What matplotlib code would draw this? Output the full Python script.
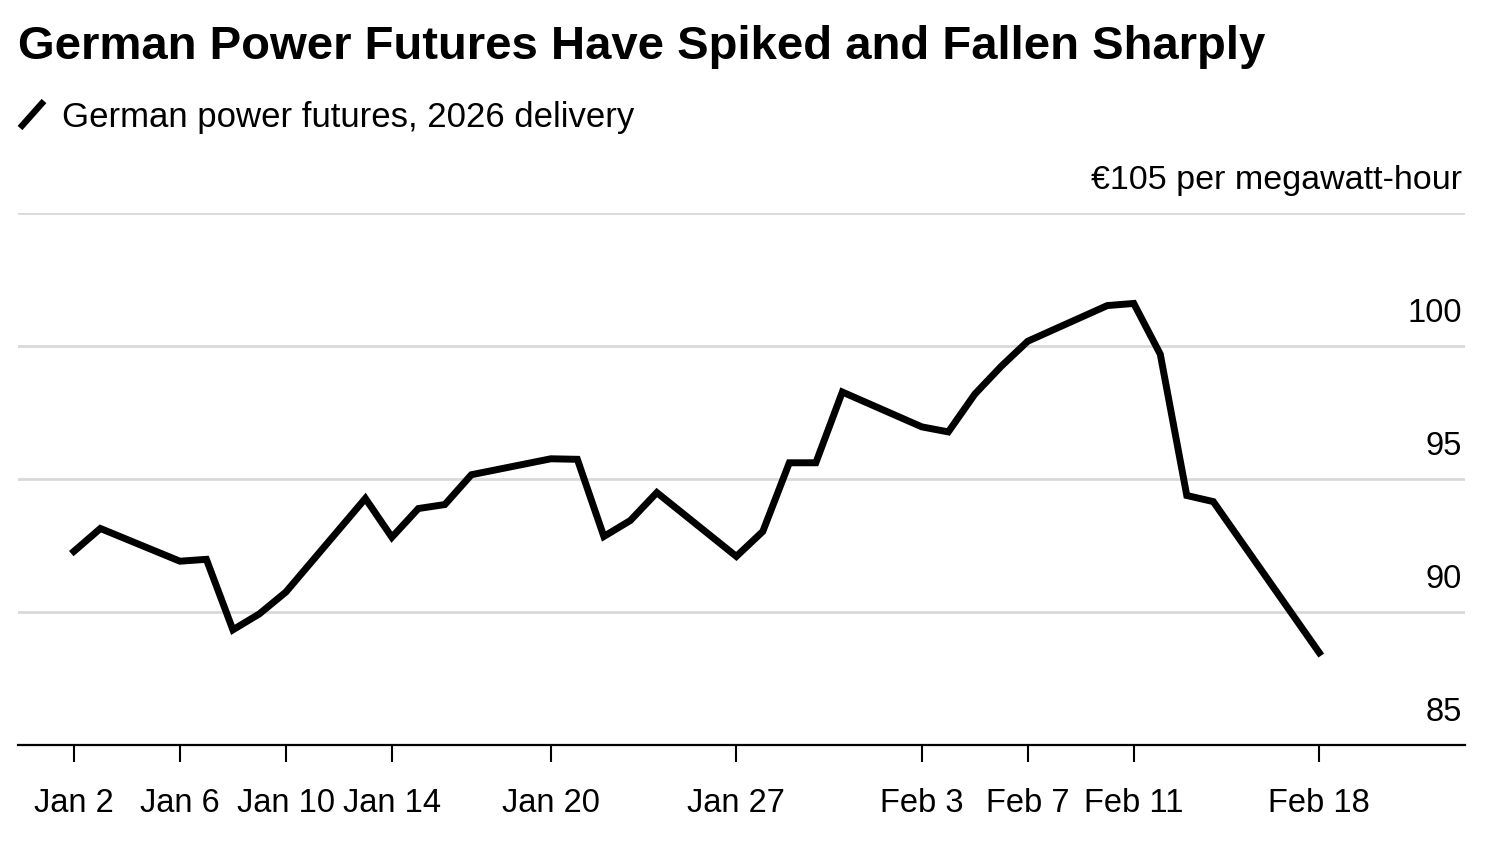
import matplotlib
matplotlib.use("Agg")
import matplotlib.pyplot as plt
import matplotlib.dates as mdates
from matplotlib.lines import Line2D
import pandas as pd

# ---------------- data ----------------
dates = ["2025-01-02", "2025-01-03", "2025-01-06", "2025-01-07", "2025-01-08",
         "2025-01-09", "2025-01-10", "2025-01-13", "2025-01-14", "2025-01-15",
         "2025-01-16", "2025-01-17", "2025-01-20", "2025-01-21", "2025-01-22",
         "2025-01-23", "2025-01-24", "2025-01-27", "2025-01-28", "2025-01-29",
         "2025-01-30", "2025-01-31", "2025-02-03", "2025-02-04", "2025-02-05",
         "2025-02-06", "2025-02-07", "2025-02-10", "2025-02-11", "2025-02-12",
         "2025-02-13", "2025-02-14", "2025-02-18"]
values = [92.28, 93.14, 91.91, 91.98, 89.33,
          89.93, 90.75, 94.27, 92.81, 93.89,
          94.04, 95.16, 95.76, 95.74, 92.84,
          93.44, 94.49, 92.09, 93.03, 95.61,
          95.61, 98.27, 96.96, 96.77, 98.19,
          99.24, 100.18, 101.52, 101.60, 99.69,
          94.38, 94.15, 88.47]

tick_dates = ["2025-01-02", "2025-01-06", "2025-01-10", "2025-01-14", "2025-01-20",
              "2025-01-27", "2025-02-03", "2025-02-07", "2025-02-11", "2025-02-18"]
tick_labels = ["Jan 2", "Jan 6", "Jan 10", "Jan 14", "Jan 20",
               "Jan 27", "Feb 3", "Feb 7", "Feb 11", "Feb 18"]
y_ticks = [85, 90, 95, 100, 105]
y_labels = ["85", "90", "95", "100", "€105 per megawatt-hour"]

title = "German Power Futures Have Spiked and Fallen Sharply"
subtitle = "German power futures, 2026 delivery"

# ---------------- styling ----------------
FONT = ["Liberation Sans", "DejaVu Sans"]
plt.rcParams["font.family"] = FONT

W, H = 1500, 850
fig = plt.figure(figsize=(W / 100, H / 100), dpi=100)
fig.patch.set_facecolor("white")

def fx(px):
    return px / W

def fy(py):
    return 1 - py / H

ax = fig.add_axes([fx(18), fy(745), fx(1465) - fx(18), fy(213) - fy(745)])

x = pd.to_datetime(dates)
ax.plot(x, values, color="black", lw=5.0, solid_joinstyle="miter", zorder=3)

start = pd.Timestamp(dates[0])
ax.set_xlim(mdates.date2num(start - pd.Timedelta(days=2.11)),
            mdates.date2num(start + pd.Timedelta(days=52.5)))
ax.set_ylim(y_ticks[0], y_ticks[-1])

# gridlines
for v in y_ticks[1:]:
    ax.axhline(v, color="#d9d9d9", lw=2.0, zorder=1)

# y labels above gridlines, right aligned
for v, lab in zip(y_ticks, y_labels):
    size = 24.5 if len(lab) > 4 else 23.5
    ax.annotate(lab, xy=(1, v), xycoords=("axes fraction", "data"),
                xytext=(-2, 17.5), textcoords="offset points",
                ha="right", va="baseline", fontsize=size, color="black")

ax.set_yticks([])
ax.set_xticks(pd.to_datetime(tick_dates))
ax.set_xticklabels(tick_labels, fontsize=23.5, color="black")
ax.tick_params(axis="x", length=12, width=1.5, color="black", pad=19, direction="out")

for s in ["top", "right", "left"]:
    ax.spines[s].set_visible(False)
ax.spines["bottom"].set_linewidth(1.6)
ax.spines["bottom"].set_color("black")
ax.set_facecolor("none")

# title and subtitle
fig.text(fx(18), fy(59), title, fontsize=34, fontweight="bold",
         ha="left", va="baseline", color="black")
fig.text(fx(62), fy(127), subtitle, fontsize=25,
         ha="left", va="baseline", color="black")
fig.add_artist(Line2D([fx(20), fx(44)], [fy(128), fy(101)],
                      color="black", lw=4.6, solid_capstyle="butt"))

fig.savefig("out.png", dpi=100, facecolor="white")
